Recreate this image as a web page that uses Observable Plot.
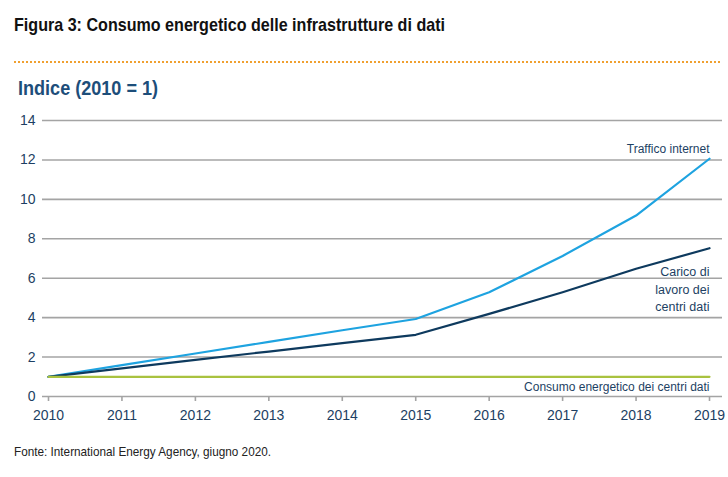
<!DOCTYPE html>
<html><head><meta charset="utf-8">
<script src="https://cdn.jsdelivr.net/npm/d3@7"></script>
<script src="https://cdn.jsdelivr.net/npm/@observablehq/plot@0.6"></script>
<style>
body{margin:0;background:#fff;font-family:"Liberation Sans",Arial,sans-serif;}
#wrap{position:relative;width:728px;height:477px;overflow:hidden}
.fit{position:absolute;white-space:nowrap;transform-origin:0 50%}
#title{left:14px;top:14px;font-size:19px;color:#111;font-weight:bold}
#rule{position:absolute;left:14px;top:61px;width:706px;border-top:2px dotted #f0a030}
#sub{left:18px;top:77px;font-size:20px;font-weight:bold;color:#1d4e7a}
#chart{position:absolute;left:0;top:100px}
#cap{left:14px;top:444px;font-size:13px;color:#222}
</style></head>
<body><div id="wrap">
<div id="title" class="fit" data-w="431">Figura 3: Consumo energetico delle infrastrutture di dati</div>
<div id="rule"></div>
<div id="sub" class="fit" data-w="140">Indice (2010 = 1)</div>
<div id="chart"></div>
<div id="cap" class="fit" data-w="257">Fonte: International Energy Agency, giugno 2020.</div>
</div>
<script>
const years = [2010, 2011, 2012, 2013, 2014, 2015, 2016, 2017, 2018, 2019];
const traffico = [1, 1.59, 2.18, 2.77, 3.36, 3.93, 5.29, 7.13, 9.18, 12.06];
const carico = [1, 1.43, 1.86, 2.28, 2.71, 3.13, 4.19, 5.29, 6.48, 7.52];
const consumo = [1, 1, 1, 1, 1, 1, 1, 1, 1, 1];
const yTicks = [0, 2, 4, 6, 8, 10, 12, 14];
const seriesNames = ["Traffico internet", "Carico di\nlavoro dei\ncentri dati", "Consumo energetico dei centri dati"];
const colors = ["#1ea3e0", "#0e3a5e", "#a9c23f"];

const rows = [];
[traffico, carico, consumo].forEach((vals, i) => {
  years.forEach((y, j) => rows.push({series: seriesNames[i], year: y, value: vals[j]}));
});
const labelRows = seriesNames.map((s, i) => ({series: s, year: years[years.length-1], value: [traffico, carico, consumo][i][years.length-1], k: i}));

const FONT = '"Liberation Sans",Arial,sans-serif';
const TXT = "#1d3f63";
const chart = Plot.plot({
  width: 728, height: 336,
  marginLeft: 48, marginRight: 19, marginTop: 20, marginBottom: 40,
  style: {fontFamily: FONT, fontSize: "14px", color: TXT},
  x: {domain: [2010, 2019], label: null},
  y: {domain: [0, 14], label: null},
  color: {domain: seriesNames, range: colors},
  marks: [
    Plot.ruleY(yTicks.filter(d => d > 0), {stroke: "#a4a4a4", strokeWidth: 1.6, insetLeft: -6, insetRight: -13}),
    Plot.ruleY([0], {stroke: "#a4a4a4", strokeWidth: 1.6, insetLeft: -6, insetRight: -13}),
    Plot.axisY({ticks: yTicks, tickSize: 0, tickPadding: 13, fill: TXT, fontSize: 14}),
    Plot.axisX({ticks: years, tickSize: 5, text: null, stroke: "#a4a4a4", strokeWidth: 1.6}),
    Plot.axisX({ticks: years, tickFormat: d => String(d), tickSize: 0, tickPadding: 14, fill: TXT, fontSize: 14}),
    Plot.line(rows, {x: "year", y: "value", z: "series", stroke: "series", strokeWidth: 2.2}),
    Plot.text(labelRows.filter(d => d.k === 0), {x: "year", y: "value", text: "series", textAnchor: "end", dy: -10, fill: TXT, fontSize: 12}),
    Plot.text(labelRows.filter(d => d.k === 1), {x: "year", y: "value", text: "series", textAnchor: "end", dy: 40, lineHeight: 1.4, fill: TXT, fontSize: 12.5}),
    Plot.text(labelRows.filter(d => d.k === 2), {x: "year", y: "value", text: "series", textAnchor: "end", dy: 10, fill: TXT, fontSize: 12})
  ]
});
document.getElementById("chart").appendChild(chart);
document.querySelectorAll(".fit").forEach(el => {
  const w = el.getBoundingClientRect().width;
  const target = +el.dataset.w;
  el.style.transform = `scaleX(${target / w})`;
});
</script>
</body></html>
